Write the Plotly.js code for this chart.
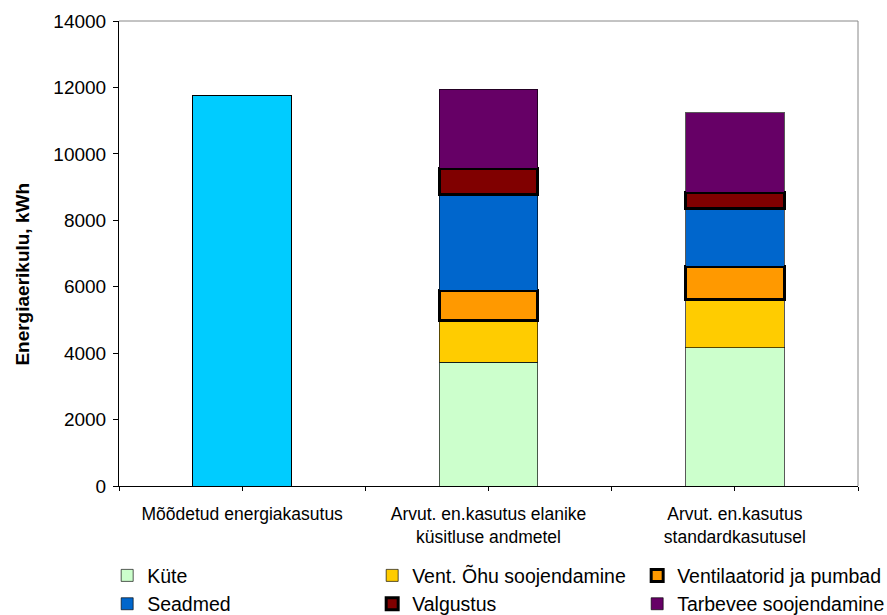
<!DOCTYPE html>
<html>
<head>
<meta charset="utf-8">
<script src="https://cdn.plot.ly/plotly-3.0.1.min.js"></script>
<style>
  html, body { margin: 0; padding: 0; background: #fff; }
  #chart { width: 887px; height: 615px; }
</style>
</head>
<body>
<div id="chart"></div>
<script>
// Categories on the x axis (line breaks as drawn)
const categories = [
  'Mõõdetud energiakasutus',
  'Arvut. en.kasutus elanike<br>küsitluse andmetel',
  'Arvut. en.kasutus<br>standardkasutusel'
];

// Measured total consumption, kWh
const measured = [11770];

// Calculated consumption by component, kWh (survey data, standard use)
const kyte          = [3720, 4160];
const ventOhk       = [1255, 1460];
const ventilaatorid = [915, 1000];
const seadmed       = [2890, 1725];
const valgustus     = [790, 495];
const tarbevesi     = [2380, 2395];

const seriesNames = [
  'Küte',
  'Vent. Õhu soojendamine',
  'Ventilaatorid ja pumbad',
  'Seadmed',
  'Valgustus',
  'Tarbevee soojendamine'
];
const seriesValues = [kyte, ventOhk, ventilaatorid, seadmed, valgustus, tarbevesi];
const seriesColors = ['#CCFFCC', '#FFCC00', '#FF9900', '#0066CC', '#800000', '#660066'];
// Two components are framed with a heavy outline
const heavyOutline = [false, false, true, false, true, false];

const yTicks = [0, 2000, 4000, 6000, 8000, 10000, 12000, 14000];
const yTitle = 'Energiaerikulu, kWh';

const FONT = '"Liberation Sans", Arial, Helvetica, sans-serif';
const calcCats = categories.slice(1);

const traces = [{
  type: 'bar',
  x: [categories[0]],
  y: measured,
  marker: { color: '#00CCFF', line: { color: '#000', width: 1 } },
  showlegend: false,
  hoverinfo: 'y'
}];

seriesNames.forEach((name, i) => {
  traces.push({
    type: 'bar',
    name: name,
    x: calcCats,
    y: seriesValues[i],
    marker: {
      color: seriesColors[i],
      line: heavyOutline[i] ? { color: '#000', width: 3 } : { color: 'rgba(0,0,0,0.65)', width: 1 }
    }
  });
});

// Ticks at each category centre and at the boundaries between categories
const tickPos = [];
const tickTxt = [];
for (let i = 0; i < categories.length; i++) {
  tickPos.push(i - 0.5, i);
  tickTxt.push('', categories[i]);
}
tickPos.push(categories.length - 0.5);
tickTxt.push('');

const layout = {
  width: 887,
  height: 615,
  paper_bgcolor: '#fff',
  plot_bgcolor: '#fff',
  font: { family: FONT, color: '#000' },
  margin: { l: 119, r: 29, t: 21, b: 129, autoexpand: false },
  barmode: 'stack',
  bargap: 0.6,
  showlegend: true,
  xaxis: {
    type: 'category',
    categoryorder: 'array',
    categoryarray: categories,
    range: [-0.5, categories.length - 0.5],
    tickmode: 'array',
    tickvals: tickPos,
    ticktext: tickTxt,
    ticks: 'outside',
    ticklen: 4,
    tickcolor: '#000',
    tickwidth: 1,
    ticklabelstandoff: 8,
    tickfont: { family: FONT, size: 17.5, color: '#000' },
    showline: true,
    linecolor: '#000',
    linewidth: 1,
    showgrid: false,
    zeroline: false,
    fixedrange: true
  },
  yaxis: {
    range: [0, 14000],
    tickmode: 'array',
    tickvals: yTicks,
    ticktext: yTicks.map(String),
    ticks: 'outside',
    ticklen: 5,
    tickcolor: '#000',
    tickwidth: 1,
    ticklabelstandoff: 3,
    tickfont: { family: FONT, size: 19, color: '#000' },
    showline: true,
    linecolor: '#000',
    linewidth: 1,
    showgrid: false,
    zeroline: false,
    fixedrange: true
  },
  legend: {
    orientation: 'h',
    x: -0.016,
    xanchor: 'left',
    y: -0.151,
    yanchor: 'top',
    entrywidth: 220,
    entrywidthmode: 'pixels',
    font: { family: FONT, size: 19.5, color: '#000' },
    traceorder: 'normal',
    bgcolor: 'rgba(0,0,0,0)'
  },
  annotations: [{
    // value axis title, placed beside the tick labels
    text: yTitle,
    textangle: -90,
    xref: 'paper', yref: 'paper',
    x: -0.131, y: 0.455,
    xanchor: 'center', yanchor: 'middle',
    showarrow: false,
    font: { family: FONT, size: 19, color: '#000', weight: 'bold' }
  }],
  shapes: [
    { type: 'line', xref: 'paper', yref: 'paper', x0: 0, x1: 1, y0: 1, y1: 1, line: { color: '#888', width: 1 } },
    { type: 'line', xref: 'paper', yref: 'paper', x0: 1, x1: 1, y0: 0, y1: 1, line: { color: '#888', width: 1 } }
  ]
};

Plotly.newPlot('chart', traces, layout, { displayModeBar: false, staticPlot: true });
</script>
</body>
</html>
